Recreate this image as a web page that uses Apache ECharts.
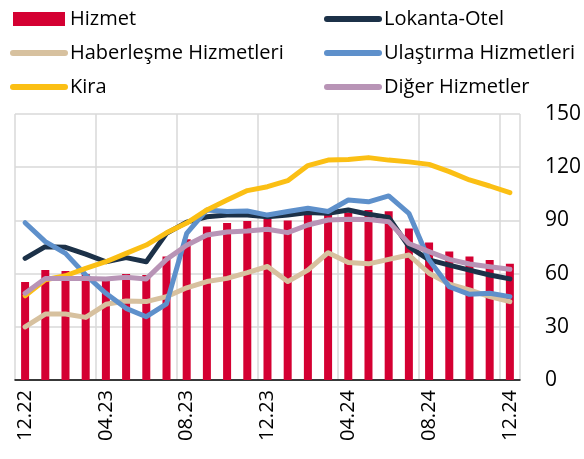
<html>
<head>
<meta charset="utf-8">
<script src="https://cdn.jsdelivr.net/npm/echarts@6/dist/echarts.min.js"></script>
</head>
<body style="margin:0">
<div id="chartmain" style="width:584px;height:459px"></div>
<script type="text/javascript">
    // aylar (12.22 - 12.24)
    var months = ['12.22', '01.23', '02.23', '03.23', '04.23', '05.23', '06.23', '07.23', '08.23', '09.23', '10.23', '11.23',
        '12.23', '01.24', '02.24', '03.24', '04.24', '05.24', '06.24', '07.24', '08.24', '09.24', '10.24', '11.24', '12.24'];
    var hizmet = [55.3, 62, 61.5, 59.8, 56.4, 59.8, 59.2, 69.6, 79.3, 86.5, 88.5, 89.7, 90.8, 89.9, 93.4, 95, 94.4, 95.9, 95.1, 85.5, 77.6, 72.4, 69.6, 67.7, 65.6];
    var lokanta = [68.6, 75.2, 74.8, 71, 66.7, 69, 66.7, 82.7, 89, 92, 93, 93, 92, 93, 94.4, 94, 95.9, 93.5, 91.7, 75.2, 67.7, 64.8, 62, 59.2, 57];
    var haberlesme = [30, 37.2, 37.2, 35.3, 42.7, 44.5, 44.2, 47, 52, 55.5, 57.3, 60.5, 64, 55.5, 62, 71.8, 66.2, 65.5, 68, 70.5, 60.2, 54.1, 50.8, 47, 44.2];
    var ulastirma = [88.7, 78, 71.4, 59.2, 48.9, 40.4, 35.7, 42.9, 82.7, 95.9, 95, 95.3, 93, 95, 96.8, 95, 101.5, 100.5, 103.8, 94, 67.7, 52.6, 48.3, 48.9, 47];
    var kira = [47.5, 56.5, 58.8, 63, 66.7, 71.4, 76.1, 83, 88.5, 95.9, 101.5, 106.8, 109, 112.4, 120.9, 124, 124.4, 125.4, 124, 123, 121.6, 117.5, 112.8, 109.4, 105.6];
    var diger = [48.9, 57.3, 57.3, 57.3, 57, 57.9, 57, 68, 76, 81.8, 83.5, 84, 85, 83.1, 87.4, 90.2, 90.6, 90.5, 89.3, 77, 72.4, 68, 65.4, 63.9, 62.4];

    var fontName = 'Open Sans';

    function lineSeries(name, data, color) {
        return {
            name: name,
            type: 'line',
            data: data,
            symbol: 'none',
            lineStyle: { color: color, width: 5, cap: 'round', join: 'round' },
            itemStyle: { color: color }
        };
    }

    // legend kalemi: kalin yuvarlak cizgi, sembol yok
    function lineItem(name) {
        return { name: name, itemStyle: { opacity: 0 }, lineStyle: { width: 6, cap: 'round' } };
    }

    var legendText = { fontFamily: fontName, fontSize: 20, color: '#000' };

    option = {
        animation: false,
        legend: [{
            orient: 'vertical',
            left: 10,
            top: 9,
            padding: 0,
            itemWidth: 52,
            itemHeight: 14,
            itemGap: 14,
            itemTextGap: 5,
            textStyle: legendText,
            data: [{ name: 'Hizmet', icon: 'rect' }, lineItem('Haberleşme Hizmetleri'), lineItem('Kira')]
        }, {
            orient: 'vertical',
            left: 324,
            top: 9,
            padding: 0,
            itemWidth: 52,
            itemHeight: 14,
            itemGap: 14,
            itemTextGap: 5,
            textStyle: legendText,
            data: [lineItem('Lokanta-Otel'), lineItem('Ulaştırma Hizmetleri'), lineItem('Diğer Hizmetler')]
        }],
        grid: { left: 15, right: 61, top: 114, bottom: 79 },
        xAxis: {
            type: 'category',
            data: months,
            boundaryGap: true,
            axisLine: { lineStyle: { color: '#000', width: 1.5 } },
            axisTick: { show: false },
            axisLabel: {
                interval: 3,
                rotate: 90,
                margin: 10,
                fontFamily: fontName,
                fontSize: 20,
                color: '#000'
            },
            splitLine: { show: true, interval: 3, lineStyle: { color: '#d9d9d9', width: 1.5 } }
        },
        yAxis: {
            type: 'value',
            position: 'right',
            min: 0,
            max: 150,
            interval: 30,
            axisLine: { show: false },
            axisTick: { show: false },
            axisLabel: { margin: 25, fontFamily: fontName, fontSize: 21, color: '#000' },
            splitLine: { lineStyle: { color: '#d9d9d9', width: 1.5 } }
        },
        series: [
            {
                name: 'Hizmet',
                type: 'bar',
                data: hizmet,
                barWidth: 8,
                itemStyle: { color: '#d40032' }
            },
            lineSeries('Lokanta-Otel', lokanta, '#1c3148'),
            lineSeries('Haberleşme Hizmetleri', haberlesme, '#d7c19f'),
            lineSeries('Ulaştırma Hizmetleri', ulastirma, '#5e90cb'),
            lineSeries('Kira', kira, '#fbbf14'),
            lineSeries('Diğer Hizmetler', diger, '#b894b6')
        ]
    };
    var myChart = echarts.init(document.getElementById('chartmain'));
    myChart.setOption(option);
</script>
</body>
</html>
